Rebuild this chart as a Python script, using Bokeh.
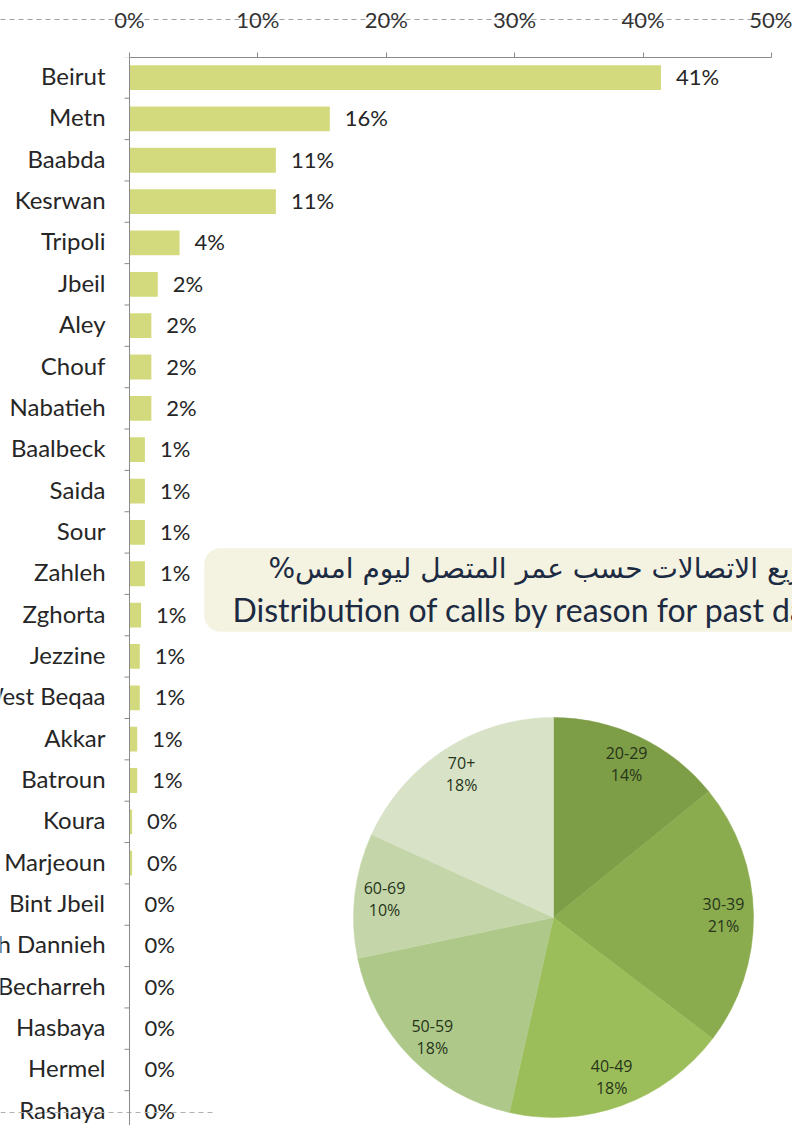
import math
from bokeh.plotting import figure
from bokeh.models import (Range1d, LinearAxis, FixedTicker, PrintfTickFormatter, Span,
                          BoxAnnotation, ColumnDataSource, Label)
from bokeh.core.properties import value
from bokeh.embed import file_html
from bokeh.resources import INLINE

# ---------------- data ----------------
districts = ["Beirut", "Metn", "Baabda", "Kesrwan", "Tripoli", "Jbeil", "Aley", "Chouf",
             "Nabatieh", "Baalbeck", "Saida", "Sour", "Zahleh", "Zghorta", "Jezzine",
             "West Beqaa", "Akkar", "Batroun", "Koura", "Marjeoun", "Bint Jbeil",
             "Minieh Dannieh", "Becharreh", "Hasbaya", "Hermel", "Rashaya"]
shares = [41.4, 15.6, 11.4, 11.4, 3.9, 2.2, 1.7, 1.7, 1.7, 1.2, 1.2, 1.2, 1.2, 0.9, 0.8,
          0.8, 0.6, 0.6, 0.2, 0.2, 0.0, 0.0, 0.0, 0.0, 0.0, 0.0]
x_ticks = [0, 10, 20, 30, 40, 50]

age_groups = ["20-29", "30-39", "40-49", "50-59", "60-69", "70+"]
age_shares = [14, 21, 18, 18, 10, 18]
age_colors = ["#7e9d47", "#8bab4f", "#9cbe5a", "#aec889", "#c4d6a9", "#d8e2c6"]

title_ar = "%توزيع الاتصالات حسب عمر المتصل ليوم امس"
title_en = "Distribution of calls by reason for past day %"

FONT = "Lato"

# ---------------- figure ----------------
p = figure(frame_width=792, frame_height=1068, min_border_top=57, min_border_left=0,
           min_border_right=0, min_border_bottom=0,
           x_range=Range1d(-10.05, 51.64), y_range=Range1d(25.343, -0.485),
           output_backend="svg", toolbar_location=None, x_axis_location=None,
           y_axis_location=None)
p.outline_line_color = None
p.grid.visible = False
p.background_fill_color = "white"
p.border_fill_color = "white"

# pixel-like helper ranges for decorations / pie
p.extra_x_ranges = {"px": Range1d(0, 792), "pie": Range1d(0 - 553, 792 - 553)}
p.extra_y_ranges = {"px": Range1d(1125, 57), "pie": Range1d(917 - 1125, 917 - 57)}

# top axis: ticks only (nearest frame); white spacer labels
ax1 = LinearAxis(ticker=FixedTicker(ticks=x_ticks), bounds=(0, 50))
ax1.axis_line_color = "#8a8a8a"
ax1.major_tick_line_color = "#8a8a8a"
ax1.major_tick_out = 5
ax1.major_tick_in = 0
ax1.minor_tick_line_color = None
ax1.major_label_text_font_size = "2px"
ax1.major_label_text_color = "white"
ax1.major_label_standoff = 29
p.add_layout(ax1, "above")

# top axis: dashed line with labels centered on it
ax2 = LinearAxis(ticker=FixedTicker(ticks=x_ticks),
                 formatter=PrintfTickFormatter(format="%d%%"))
ax2.axis_line_color = "#a0a0a0"
ax2.axis_line_dash = "5 4"
ax2.major_tick_line_color = None
ax2.minor_tick_line_color = None
ax2.major_tick_out = 0
ax2.major_tick_in = 0
ax2.major_label_text_font = FONT
ax2.major_label_text_font_size = "22px"
ax2.major_label_text_color = "#333333"
ax2.major_label_standoff = -13
p.add_layout(ax2, "above")

# ---------------- bar chart ----------------
idx = list(range(len(districts)))
src = ColumnDataSource(dict(
    y=idx, name=districts, v=shares,
    lab=[f"{round(v):d}%" for v in shares],
))
p.hbar(y="y", left=0, right="v", height=0.6, source=src,
       fill_color="#d3da7e", line_color=None)

# y axis line and ticks at band boundaries
p.add_layout(Span(location=0, dimension="height", line_color="#8a8a8a", line_width=1))
bounds_src = ColumnDataSource(dict(y=[i - 0.5 for i in range(len(districts) + 1)],
                                   x=[0] * (len(districts) + 1)))
p.ray(x="x", y="y", length=5, length_units="screen", angle=math.pi,
      line_color="#8a8a8a", line_width=1, source=bounds_src)

p.text(x=0, y="y", text="name", source=src, x_offset=-24, y_offset=-2,
       text_align="right", text_baseline="middle",
       text_font=value(FONT), text_font_size="24px", text_color="#262626")
p.text(x="v", y="y", text="lab", source=src, x_offset=15, y_offset=-1,
       text_align="left", text_baseline="middle",
       text_font=value(FONT), text_font_size="22px", text_color="#262626")

# faint dashed bottom line
p.segment(x0=[0], y0=[1112], x1=[212], y1=[1112], x_range_name="px", y_range_name="px",
          line_color="#b0b0b0", line_dash="5 4", line_width=1)

# ---------------- title box ----------------
p.add_layout(BoxAnnotation(left=204, right=840, top=548, bottom=631,
                           x_range_name="px", y_range_name="px",
                           fill_color="#f4f3e1", fill_alpha=1.0,
                           line_color="#ecebd6", line_width=1, border_radius=16))
p.add_layout(Label(x=268, y=568, x_range_name="px", y_range_name="px", text=title_ar,
                   text_font="DejaVu Sans", text_font_size="28px", text_color="#1c2a42",
                   text_align="left", text_baseline="middle"))
p.add_layout(Label(x=232, y=609, x_range_name="px", y_range_name="px", text=title_en,
                   text_font=FONT, text_font_size="32px", text_color="#1c2a42",
                   text_align="left", text_baseline="middle"))

# ---------------- pie ----------------
total = float(sum(age_shares))
starts, ends, lx, ly, labs = [], [], [], [], []
cum = 0.0
for g, s in zip(age_groups, age_shares):
    a0 = math.pi / 2 - 2 * math.pi * cum / total
    a1 = math.pi / 2 - 2 * math.pi * (cum + s) / total
    mid = (a0 + a1) / 2
    starts.append(a0)
    ends.append(a1)
    lx.append(170 * math.cos(mid))
    ly.append(170 * math.sin(mid))
    labs.append(f"{g}\n{s}%")
    cum += s
pie_src = ColumnDataSource(dict(start=starts, end=ends, color=age_colors,
                                lx=lx, ly=ly, lab=labs))
p.wedge(x=0, y=0, radius=200, start_angle="start", end_angle="end", direction="clock",
        fill_color="color", line_color="color", line_width=0.5, source=pie_src,
        x_range_name="pie", y_range_name="pie")
p.text(x="lx", y="ly", text="lab", source=pie_src, x_range_name="pie", y_range_name="pie",
       text_align="center", text_baseline="middle", text_line_height=1.0,
       text_font=value("Open Sans"), text_font_size="16px", text_color="#26341a")

open("out.html", "w").write(file_html(p, INLINE))
